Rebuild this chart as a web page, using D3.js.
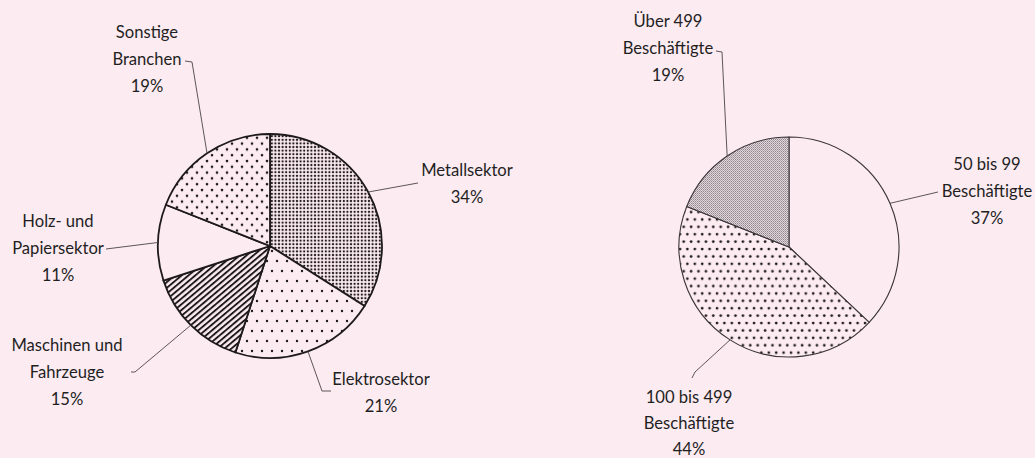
<!DOCTYPE html>
<html>
  <head>
    <meta charset="utf-8">
    <title>Pie charts</title>
    <script src="https://cdnjs.cloudflare.com/ajax/libs/d3/7.8.5/d3.min.js" charset="utf-8"></script>
    <style>
      body { margin: 0; background: #fcebf1; }
      text { font-family: Lato, "Noto Sans", sans-serif; font-size: 16.6px; fill: #1f1f1f; }
    </style>
  </head>
  <body>
    <div id="chart"></div>
    <script>

// left pie: Branchen
var sectorNames = [["Metallsektor"], ["Elektrosektor"], ["Maschinen und", "Fahrzeuge"],
                   ["Holz- und", "Papiersektor"], ["Sonstige", "Branchen"]];
var sectorValues = [34, 21, 15, 11, 19];

// right pie: Betriebsgroesse
var sizeNames = [["50 bis 99", "Beschäftigte"], ["100 bis 499", "Beschäftigte"],
                 ["Über 499", "Beschäftigte"]];
var sizeValues = [37, 44, 19];

var W = 1035, H = 458, BG = "#fcebf1";

var svg = d3.select("#chart").append("svg")
    .attr("width", W).attr("height", H);

svg.append("rect").attr("width", W).attr("height", H).attr("fill", BG);

var defs = svg.append("defs");

function dotPattern (id, w, h, pts, r) {
    var p = defs.append("pattern").attr("id", id)
	.attr("patternUnits", "userSpaceOnUse")
	.attr("width", w).attr("height", h);
    p.append("rect").attr("width", w).attr("height", h).attr("fill", BG);
    pts.forEach(function(d) {
	p.append("circle").attr("cx", d[0]).attr("cy", d[1]).attr("r", r).attr("fill", "#1e1a1c");
    });
}

dotPattern("dense", 3.6, 3.6, [[1.8, 1.8]], 1.15);
dotPattern("sparse", 10, 20, [[2, 5], [7, 15]], 1.2);
dotPattern("medium", 10, 11.6, [[2, 2], [7, 7.8]], 1.3);
dotPattern("medium2", 7.4, 14.8, [[2, 2], [5.7, 9.4]], 1.35);

var st = defs.append("pattern").attr("id", "stripes")
    .attr("patternUnits", "userSpaceOnUse")
    .attr("width", 4.4).attr("height", 4.4)
    .attr("patternTransform", "rotate(-40)");
st.append("rect").attr("width", 4.4).attr("height", 4.4).attr("fill", BG);
st.append("rect").attr("width", 4.4).attr("height", 1.9).attr("fill", "#1e1a1c");

var gr = defs.append("pattern").attr("id", "grey")
    .attr("patternUnits", "userSpaceOnUse")
    .attr("width", 2).attr("height", 2);
gr.append("rect").attr("width", 2).attr("height", 2).attr("fill", "#e2d8de");
gr.append("rect").attr("width", 1).attr("height", 1).attr("fill", "#8d8388");
gr.append("rect").attr("x", 1).attr("y", 1).attr("width", 1).attr("height", 1).attr("fill", "#aaa0a5");

/*
 * one pie with labels and leader lines
 */
function drawPie (opt) {
    var pie = d3.pie().sort(null).value(function(d) { return d; });
    var arcs = pie(opt.values);
    var arc = d3.arc().innerRadius(0).outerRadius(opt.r);
    var edge = d3.arc().innerRadius(opt.r).outerRadius(opt.r);

    var g = svg.append("g").attr("transform", "translate(" + opt.cx + "," + opt.cy + ")");
    g.selectAll("path.slice").data(arcs).enter().append("path")
	.attr("class", "slice")
	.attr("d", arc)
	.attr("fill", function(d, i) { return opt.fills[i]; })
	.attr("stroke", opt.stroke)
	.attr("stroke-width", opt.sw)
	.attr("stroke-linejoin", "round");

    arcs.forEach(function(d, i) {
	var c = edge.centroid(d);
	var pts = [[opt.cx + c[0], opt.cy + c[1]]].concat(opt.labels[i].leader);
	svg.append("path")
	    .attr("d", d3.line()(pts))
	    .attr("fill", "none")
	    .attr("stroke", "#4a4448")
	    .attr("stroke-width", 0.9);

	var lab = opt.labels[i];
	var lines = opt.names[i].concat([opt.values[i] + "%"]);
	var t = svg.append("text").attr("text-anchor", "middle");
	lines.forEach(function(s, k) {
	    t.append("tspan").attr("x", lab.x).attr("y", lab.y + k * (lab.dy || 27)).text(s);
	});
    });
}

drawPie({
    cx: 270, cy: 246, r: 112, stroke: "#1e1a1c", sw: 1.8,
    values: sectorValues, names: sectorNames,
    fills: ["url(#dense)", "url(#sparse)", "url(#stripes)", BG, "url(#medium)"],
    labels: [
	{x: 467, y: 176, leader: [[418, 183]]},
	{x: 381, y: 385, leader: [[322, 391], [331, 391]]},
	{x: 67, y: 351, leader: [[135, 372], [131, 372]]},
	{x: 58, y: 227, leader: [[106, 249]]},
	{x: 147, y: 38, leader: [[192, 62], [185, 61]]}
    ]
});

drawPie({
    cx: 789, cy: 247, r: 110, stroke: "#3a3438", sw: 1.1,
    values: sizeValues, names: sizeNames,
    fills: [BG, "url(#medium2)", "url(#grey)"],
    labels: [
	{x: 987, y: 170, leader: [[938, 192]]},
	{x: 689, y: 403, dy: 26, leader: [[695, 372], [692, 378]]},
	{x: 668, y: 27, leader: [[722, 52], [716, 51]]}
    ]
});

    </script>
  </body>
</html>
